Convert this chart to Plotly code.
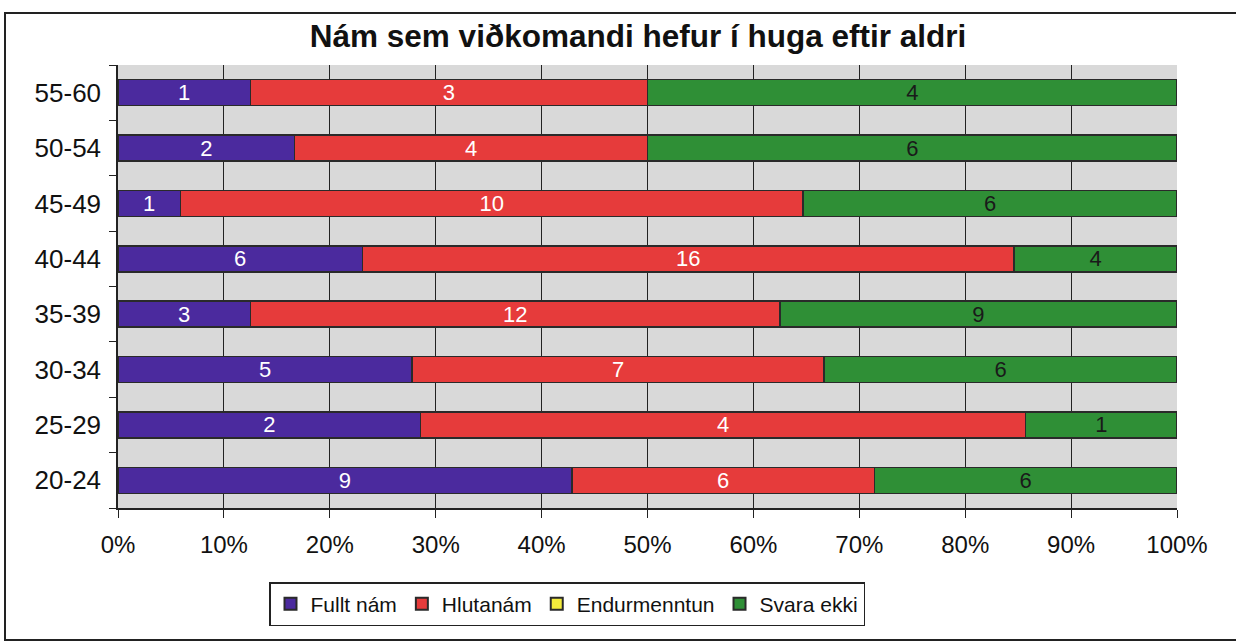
import plotly.graph_objects as go

categories = ["20-24", "25-29", "30-34", "35-39", "40-44", "45-49", "50-54", "55-60"]
fullt_nam = [9, 2, 5, 3, 6, 1, 2, 1]
hlutanam = [6, 4, 7, 12, 16, 10, 4, 3]
endurmenntun = [0, 0, 0, 0, 0, 0, 0, 0]
svara_ekki = [6, 1, 6, 9, 4, 6, 6, 4]
x_ticks = [0, 10, 20, 30, 40, 50, 60, 70, 80, 90, 100]
x_tick_labels = [f"{v}%" for v in x_ticks]

series = [
    ("Fullt nám", fullt_nam, "#4b2a9e", "white"),
    ("Hlutanám", hlutanam, "#e63b3b", "white"),
    ("Endurmenntun", endurmenntun, "#f4ec3c", "black"),
    ("Svara ekki", svara_ekki, "#2f8f36", "#1a1a1a"),
]

FONT = "Liberation Sans, Arial, sans-serif"

fig = go.Figure()
for name, vals, color, tcolor in series:
    fig.add_trace(go.Bar(
        y=categories, x=vals, name=name, orientation="h",
        marker=dict(color=color, line=dict(color="#2a2a2a", width=1.5)),
        text=[str(v) if v else "" for v in vals],
        textposition="inside", insidetextanchor="middle", textangle=0,
        textfont=dict(color=tcolor, size=22, family=FONT),
        constraintext="none",
        hoverinfo="skip",
    ))

W, H = 1236, 643
L, R, T, B = 118, 59, 65, 135
pw, ph = W - L - R, H - T - B

fig.update_layout(
    width=W, height=H,
    barmode="stack", barnorm="percent", bargap=0.53,
    margin=dict(l=L, r=R, t=T, b=B, autoexpand=False),
    paper_bgcolor="white", plot_bgcolor="#d9d9d9",
    font=dict(family=FONT, color="#111", size=20),
    title=dict(text="<b>Nám sem viðkomandi hefur í huga eftir aldri</b>",
               x=638 / W, xanchor="center", y=1 - 36 / H, yanchor="middle",
               font=dict(size=31.5, family=FONT, color="#111")),
    showlegend=True,
    legend=dict(orientation="h", x=(567 - L) / pw, xanchor="center",
                y=(508 - 582) / ph, yanchor="top",
                bgcolor="white", bordercolor="#222", borderwidth=1.5,
                font=dict(size=21, family=FONT), traceorder="normal",
                itemwidth=30, itemsizing="constant"),
    xaxis=dict(range=[0, 100], tickvals=x_ticks, ticktext=x_tick_labels,
               showgrid=True, gridcolor="#222", gridwidth=1,
               showline=True, linecolor="#222", linewidth=1.5,
               ticks="outside", ticklen=8, tickcolor="#222",
               ticklabelstandoff=6,
               tickfont=dict(size=24), zeroline=False, fixedrange=True),
    yaxis=dict(categoryorder="array", categoryarray=categories,
               showline=True, linecolor="#222", linewidth=1.5,
               ticks="outside", ticklen=7, tickcolor="#222", tickson="boundaries",
               ticklabelstandoff=10,
               tickfont=dict(size=26), showgrid=False, fixedrange=True),
    shapes=[dict(type="rect", xref="paper", yref="paper",
                 x0=(5 - L) / pw, x1=(1245 - L) / pw,
                 y0=(H - B - 640) / ph, y1=(H - B - 13) / ph,
                 line=dict(color="#222", width=2), fillcolor="rgba(0,0,0,0)",
                 layer="below")],
)

fig.write_html("out.html", config={"displayModeBar": False},
               post_script="document.body.style.margin='0';")
